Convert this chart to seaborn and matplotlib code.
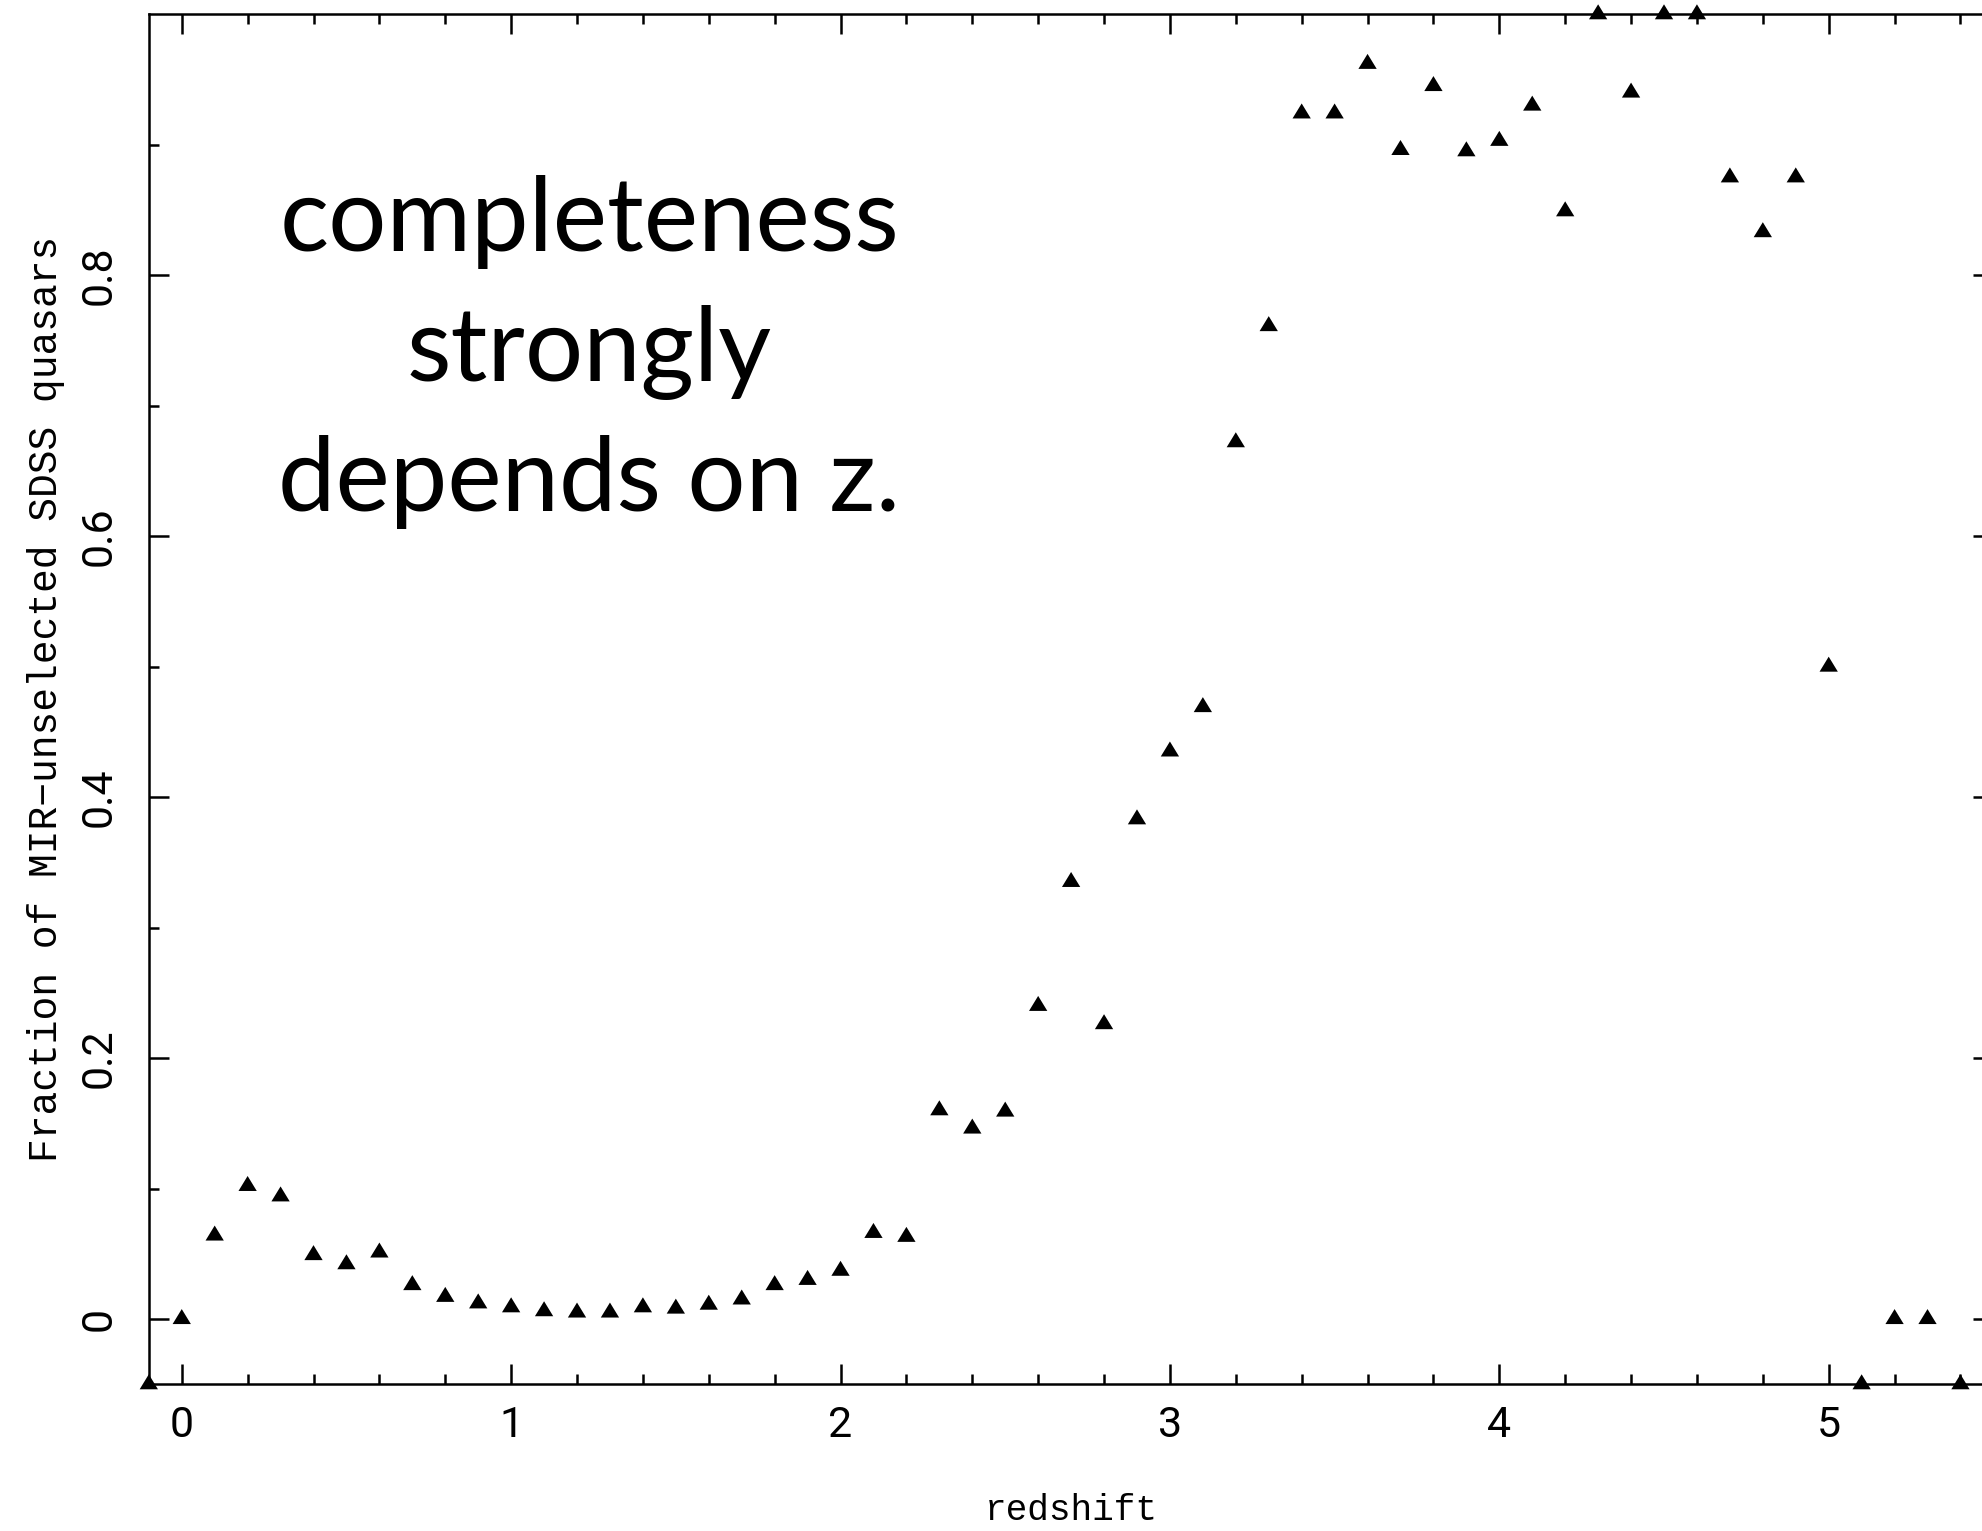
import matplotlib
matplotlib.use("Agg")
import matplotlib.pyplot as plt
import numpy as np
import pandas as pd
import seaborn as sns
from matplotlib.ticker import FixedLocator, FuncFormatter

# ---------------- data ----------------
redshift = [-0.1, 0.0, 0.1, 0.2, 0.3, 0.4, 0.5, 0.6, 0.7, 0.8, 0.9,
            1.0, 1.1, 1.2, 1.3, 1.4, 1.5, 1.6, 1.7, 1.8, 1.9,
            2.0, 2.1, 2.2, 2.3, 2.4, 2.5, 2.6, 2.7, 2.8, 2.9,
            3.0, 3.1, 3.2, 3.3, 3.4, 3.5, 3.6, 3.7, 3.8, 3.9,
            4.0, 4.1, 4.2, 4.3, 4.4, 4.5, 4.6, 4.7, 4.8, 4.9,
            5.0, 5.1, 5.2, 5.3, 5.4]
fraction = [-0.05, 0.0, 0.064, 0.102, 0.094, 0.049, 0.042, 0.051, 0.026, 0.017, 0.012,
            0.009, 0.006, 0.005, 0.005, 0.009, 0.008, 0.011, 0.015, 0.026, 0.030,
            0.037, 0.066, 0.063, 0.160, 0.146, 0.159, 0.240, 0.335, 0.226, 0.383,
            0.435, 0.469, 0.672, 0.761, 0.924, 0.924, 0.962, 0.896, 0.945, 0.895,
            0.903, 0.930, 0.849, 1.0, 0.940, 1.0, 1.0, 0.875, 0.833, 0.875,
            0.500, -0.05, 0.0, 0.0, -0.05]

x_major = [0, 1, 2, 3, 4, 5]
y_major = [0.0, 0.2, 0.4, 0.6, 0.8]
x_label = "redshift"
y_label = "Fraction of MIR\u2212unselected SDSS quasars"
note = "completeness\nstrongly\ndepends on z."

df = pd.DataFrame({"redshift": redshift, "fraction": fraction})

# ---------------- style ----------------
sns.set_theme(style="white")
plt.rcParams["font.family"] = ["DejaVu Sans"]

fig = plt.figure(figsize=(19.82, 15.31), dpi=100)
ax = fig.add_axes([0.07508, 0.09582, 0.93067, 0.89484])

# triangle with centroid at the data point
tri = [(0.0, 1.0), (-0.915, -0.5), (0.915, -0.5), (0.0, 1.0)]
sns.scatterplot(data=df, x="redshift", y="fraction", marker=tri, s=14.4 ** 2,
                color="black", edgecolor="none", linewidth=0, clip_on=False,
                legend=False, ax=ax, zorder=5)

ax.set_xlim(-0.1, 5.5)
ax.set_ylim(-0.05, 1.0)

ax.xaxis.set_major_locator(FixedLocator(x_major))
ax.xaxis.set_minor_locator(FixedLocator(np.arange(-0.0, 5.51, 0.2)))
ax.yaxis.set_major_locator(FixedLocator(y_major))
ax.yaxis.set_minor_locator(FixedLocator(np.arange(0.1, 0.95, 0.2)))
ax.xaxis.set_major_formatter(FuncFormatter(lambda v, p: f"{v:g}"))
ax.yaxis.set_major_formatter(FuncFormatter(lambda v, p: "0" if abs(v) < 1e-9 else f"{v:.1f}"))

for s in ax.spines.values():
    s.set_color("black")
    s.set_linewidth(1.8)

ax.tick_params(which="both", direction="in", top=True, right=True,
               bottom=True, left=True, color="black", width=1.8)
ax.tick_params(which="major", length=14.4)
ax.tick_params(which="minor", length=7.2)
ax.tick_params(axis="x", which="major", pad=15, labelsize=31, labelcolor="black")
ax.tick_params(axis="y", which="major", pad=21, labelsize=31, labelcolor="black",
               labelrotation=90)
for lab in ax.get_xticklabels() + ax.get_yticklabels():
    lab.set_fontfamily("Roboto")
for lab in ax.get_yticklabels():
    lab.set_va("center")

ax.set_xlabel(x_label, fontsize=26, fontfamily="Liberation Mono", color="black")
ax.set_ylabel(y_label, fontsize=28.5, fontfamily="Liberation Mono", color="black")
ax.xaxis.set_label_coords(0.5, -0.0791)
ax.yaxis.set_label_coords(-0.0456, 0.5)

ax.text(1.2365, 0.741, note, ha="center", va="center", multialignment="center",
        fontsize=74, fontfamily="Lato", color="black", linespacing=1.47)

ax.grid(False)
fig.savefig("out.png", dpi=100)
